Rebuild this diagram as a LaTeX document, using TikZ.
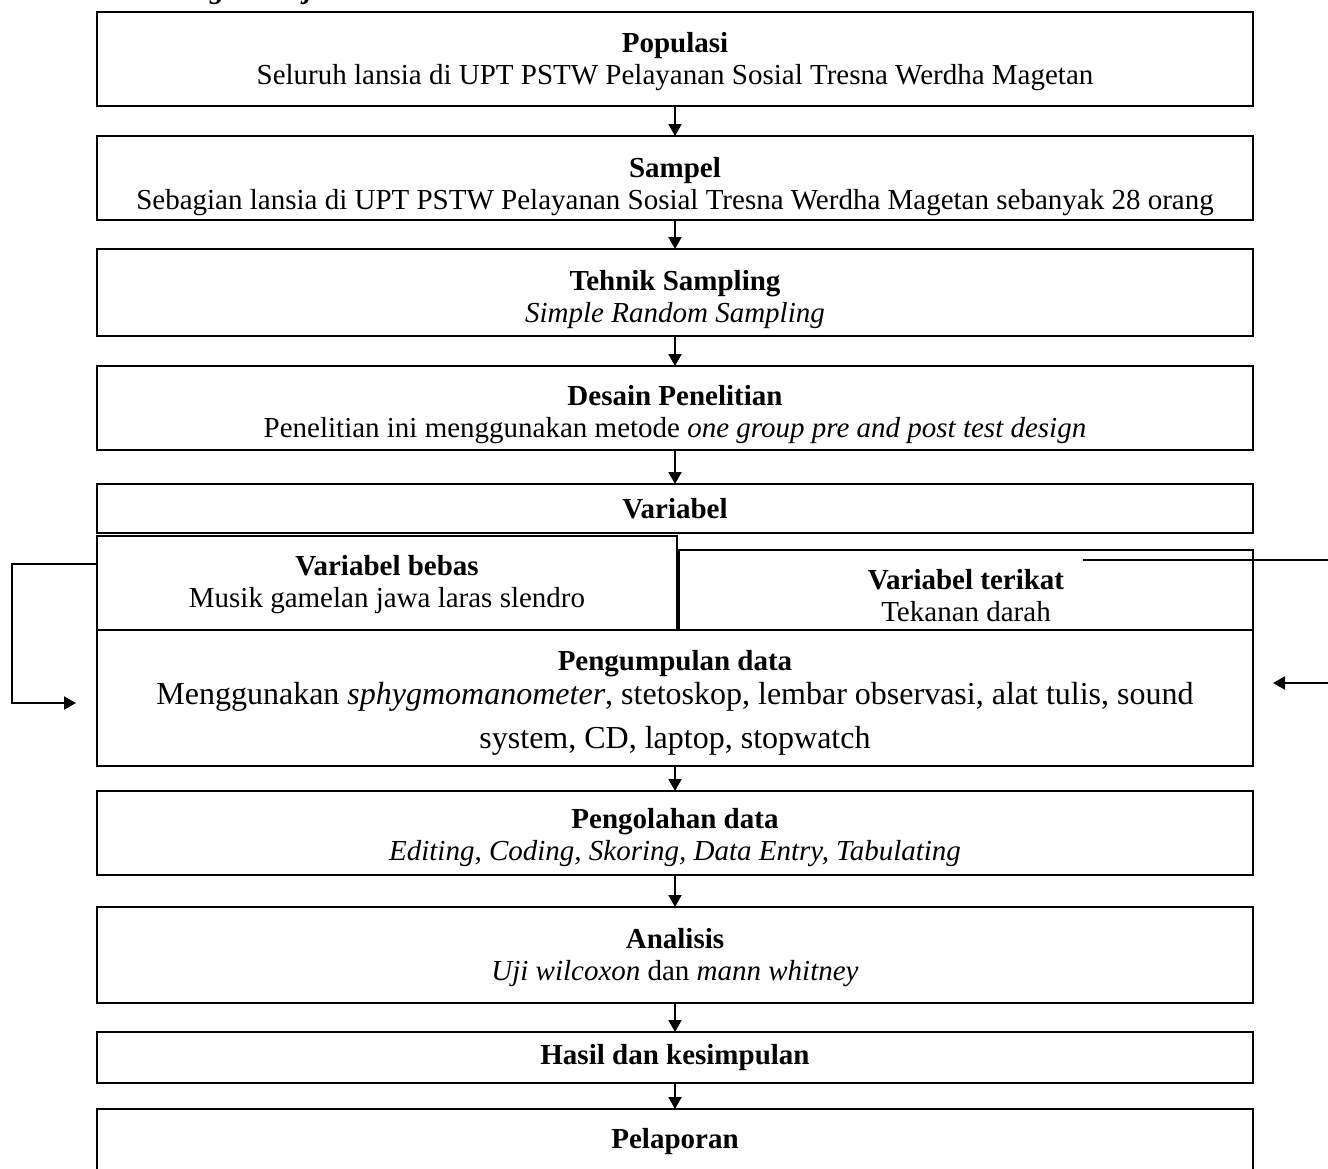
\documentclass[tikz,border=0pt]{standalone}
\usepackage{fontspec}
\setmainfont{Liberation Serif}
\usetikzlibrary{positioning,arrows.meta}
\newcommand{\ruang}[1]{\rule{0pt}{#1}}
\tikzset{
	langkah/.style={draw, line width=1pt, outer sep=0pt, minimum width=578pt, align=center, inner sep=0pt, font=\fontsize{14.5}{16}\selectfont},
	panah/.style={-{Triangle[length=6pt,width=6.5pt]}, line width=1pt},
}

\begin{document}
\begin{tikzpicture}[x=0.5pt, y=-0.5pt]
	\useasboundingbox (0,0) rectangle (1328,1168);
	\node[anchor=base west, font=\fontsize{14.5}{16}\selectfont\bfseries\itshape] (judul) at (129,-2) {Kerangka Kerja};
	\node[langkah, minimum height=47pt, anchor=north] (populasi) at (675,12) {\ruang{13pt}\textbf{Populasi}\\ Seluruh lansia di UPT PSTW Pelayanan Sosial Tresna Werdha Magetan};
	\node[langkah, minimum height=42pt, below=15pt of populasi] (sampel) {\ruang{19pt}\textbf{Sampel}\\ Sebagian lansia di UPT PSTW Pelayanan Sosial Tresna Werdha Magetan sebanyak 28 orang};
	\node[langkah, minimum height=43.5pt, below=14.5pt of sampel] (sampling) {\ruang{17pt}\textbf{Tehnik Sampling}\\ \textit{Simple Random Sampling}};
	\node[langkah, minimum height=42pt, below=15pt of sampling] (desain) {\ruang{17pt}\textbf{Desain Penelitian}\\ Penelitian ini menggunakan metode \textit{one group pre and post test design}};
	\node[langkah, minimum height=24.5pt, below=17pt of desain] (variabel) {\textbf{Variabel}};
	\node[langkah, minimum width=290pt, minimum height=47pt, anchor=north west] (bebas) at ([yshift=-1.5pt]variabel.south west) {\ruang{12pt}\textbf{Variabel bebas}\\ Musik gamelan jawa laras slendro};
	\node[langkah, minimum width=287pt, minimum height=40pt, anchor=south east] (terikat) at (bebas.south -| variabel.east) {\ruang{15.5pt}\textbf{Variabel terikat}\\ Tekanan darah};
	\node[langkah, minimum height=68pt, anchor=north west, font=\fontsize{16}{22}\selectfont] (kumpul) at (bebas.south west) {{\fontsize{14.5}{16}\selectfont\ruang{15pt}\textbf{Pengumpulan data}}\\[-5pt] Menggunakan \textit{sphygmomanometer}, stetoskop, lembar observasi, alat tulis, sound\\ system, CD, laptop, stopwatch};
	\node[langkah, minimum height=42pt, below=12.5pt of kumpul] (pengolahan) {\ruang{15pt}\textbf{Pengolahan data}\\ \textit{Editing, Coding, Skoring, Data Entry, Tabulating}};
	\node[langkah, minimum height=48pt, below=16pt of pengolahan] (analisis) {\ruang{13pt}\textbf{Analisis}\\ \textit{Uji wilcoxon} dan \textit{mann whitney}};
	\node[langkah, minimum height=25.5pt, below=14.5pt of analisis] (hasil) {\textbf{Hasil dan kesimpulan}};
	\node[langkah, minimum height=45pt, below=13pt of hasil] (pelaporan) {\textbf{Pelaporan}\\ \mbox{}};
	
	\coordinate (masukkiri) at (76,703);
	\coordinate (keluarkanan) at (1083,560);
	\coordinate (masukkanan) at (1273,683);
	
	\path[panah,draw] (populasi) edge (sampel);
	\path[panah,draw] (sampel) edge (sampling);
	\path[panah,draw] (sampling) edge (desain);
	\path[panah,draw] (desain) edge (variabel);
	\path[panah,draw] (kumpul) edge (pengolahan);
	\path[panah,draw] (pengolahan) edge (analisis);
	\path[panah,draw] (analisis) edge (hasil);
	\path[panah,draw] (hasil) edge (pelaporan);
	\draw[panah] ([yshift=9.5pt]bebas.west) -| ([xshift=-32pt]masukkiri) -- (masukkiri);
	\draw[panah] (keluarkanan) -- ++(140pt,0) |- (masukkanan);
\end{tikzpicture}
\end{document}
